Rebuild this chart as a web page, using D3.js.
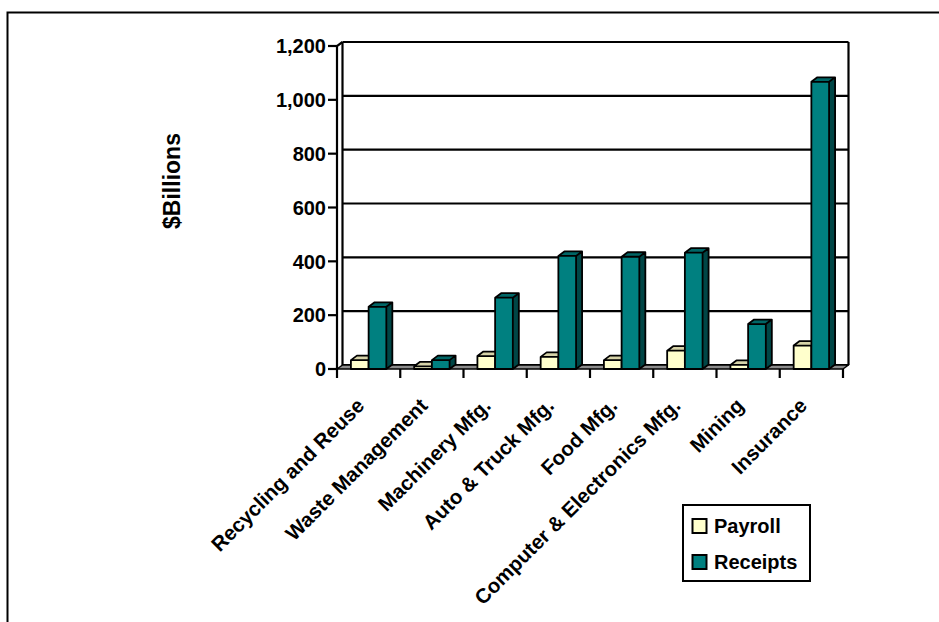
<!DOCTYPE html>
<html>
<head>
<meta charset="utf-8">
<script src="https://cdn.jsdelivr.net/npm/d3@7"></script>
<style>
  html, body { margin: 0; padding: 0; background: #fff; }
  svg { display: block; }
  text { font-family: "Liberation Sans", Arial, sans-serif; font-weight: bold; fill: #000; }
</style>
</head>
<body>
<svg id="chart" width="939" height="622"></svg>
<script>
// Industry payroll and receipts, in billions of dollars
const categories = [
  "Recycling and Reuse",
  "Waste Management",
  "Machinery Mfg.",
  "Auto & Truck Mfg.",
  "Food Mfg.",
  "Computer & Electronics Mfg.",
  "Mining",
  "Insurance"
];
const payroll  = [33, 10, 48, 45, 33, 68, 15, 87];
const receipts = [231, 33, 265, 420, 417, 432, 167, 1067];
const seriesNames = ["Payroll", "Receipts"];
const yTicks = [0, 200, 400, 600, 800, 1000, 1200];

const svg = d3.select("#chart");

// outer frame
svg.append("rect")
  .attr("x", 7.5).attr("y", 12.5)
  .attr("width", 1000).attr("height", 700)
  .attr("fill", "none").attr("stroke", "#000").attr("stroke-width", 2);

// plot geometry (front plane), with a small oblique depth offset
const x0 = 337, x1 = 843;
const depth = { dx: 5.5, dy: -4 };
const barDepth = { dx: 6, dy: -4.5 };

const x = d3.scaleBand().domain(categories).range([x0, x1]).paddingInner(0.44).paddingOuter(0.22);
const y = d3.scaleLinear().domain([0, 1200]).range([369, 46]);

const colors = {
  Payroll:  { front: "#FFFFCC", top: "#D6D3A8", side: "#A8A57E" },
  Receipts: { front: "#008080", top: "#006666", side: "#004646" }
};

// back wall gridlines
const g = svg.append("g");
g.selectAll("line.grid").data(yTicks).join("line")
  .attr("class", "grid")
  .attr("x1", x0 + depth.dx).attr("x2", x1 + depth.dx)
  .attr("y1", d => y(d) + depth.dy).attr("y2", d => y(d) + depth.dy)
  .attr("stroke", "#000").attr("stroke-width", 2.2);

// back wall vertical edges
[x0 + depth.dx, x1 + depth.dx].forEach(xx => {
  g.append("line")
    .attr("x1", xx).attr("x2", xx)
    .attr("y1", y(0) + depth.dy).attr("y2", y(1200) + depth.dy)
    .attr("stroke", "#000").attr("stroke-width", 2.2);
});

// floor
g.append("path")
  .attr("d", `M${x0},${y(0)} L${x1},${y(0)} L${x1 + depth.dx},${y(0) + depth.dy} L${x0 + depth.dx},${y(0) + depth.dy} Z`)
  .attr("fill", "#8c8c8c").attr("stroke", "#000").attr("stroke-width", 1.5)
  .attr("stroke-linejoin", "round");

// front value axis with ticks
const axisG = svg.append("g");
axisG.append("path")
  .attr("d", `M${x0},${y(0)} L${x0},${y(1200)} L${x0 + depth.dx},${y(1200) + depth.dy}`)
  .attr("fill", "none").attr("stroke", "#000").attr("stroke-width", 2.2);
axisG.selectAll("line.ytick").data(yTicks).join("line")
  .attr("class", "ytick")
  .attr("x1", x0 - 9).attr("x2", x0)
  .attr("y1", d => y(d)).attr("y2", d => y(d))
  .attr("stroke", "#000").attr("stroke-width", 2.2);
axisG.selectAll("text.ylab").data(yTicks).join("text")
  .attr("class", "ylab")
  .attr("x", 326).attr("y", d => y(d))
  .attr("dy", "0.36em")
  .attr("text-anchor", "end")
  .attr("font-size", 20)
  .text(d => d3.format(",")(d));

// category axis ticks at band boundaries
const bounds = d3.range(categories.length + 1).map(i => x0 + i * (x1 - x0) / categories.length);
axisG.selectAll("line.xtick").data(bounds).join("line")
  .attr("class", "xtick")
  .attr("x1", d => d).attr("x2", d => d)
  .attr("y1", y(0)).attr("y2", y(0) + 9)
  .attr("stroke", "#000").attr("stroke-width", 2.2);

// 3D bars
const sub = d3.scaleBand().domain(seriesNames).range([0, x.bandwidth()]).padding(0);
const barsG = svg.append("g");
categories.forEach((c, i) => {
  const vals = { Payroll: payroll[i], Receipts: receipts[i] };
  seriesNames.forEach(s => {
    const bx0 = x(c) + sub(s), bx1 = bx0 + sub.bandwidth();
    const yt = y(vals[s]), yb = y(0);
    const { dx, dy } = barDepth;
    const col = colors[s];
    const bar = barsG.append("g");
    bar.append("path")
      .attr("d", `M${bx1},${yb} L${bx1 + dx},${yb + dy} L${bx1 + dx},${yt + dy} L${bx1},${yt} Z`)
      .attr("fill", col.side);
    bar.append("path")
      .attr("d", `M${bx0},${yt} L${bx0 + dx},${yt + dy} L${bx1 + dx},${yt + dy} L${bx1},${yt} Z`)
      .attr("fill", col.top);
    bar.append("rect")
      .attr("x", bx0).attr("y", yt).attr("width", bx1 - bx0).attr("height", yb - yt)
      .attr("fill", col.front);
    bar.append("path")
      .attr("d", `M${bx0},${yb} L${bx0},${yt} L${bx0 + dx},${yt + dy} L${bx1 + dx},${yt + dy} L${bx1 + dx},${yb + dy} L${bx1},${yb} Z M${bx0},${yt} L${bx1},${yt} L${bx1},${yb} M${bx1},${yt} L${bx1 + dx},${yt + dy}`)
      .attr("fill", "none").attr("stroke", "#000").attr("stroke-width", 1.8)
      .attr("stroke-linejoin", "round");
  });
});

// category labels, rotated
svg.append("g").selectAll("text.xlab").data(categories).join("text")
  .attr("class", "xlab")
  .attr("text-anchor", "end")
  .attr("font-size", 20.5)
  .attr("transform", d => `translate(${x(d) + x.bandwidth() / 2 - 3},${407}) rotate(-45)`)
  .text(d => d);

// value axis title
svg.append("text")
  .attr("transform", "translate(180,181) rotate(-90)")
  .attr("text-anchor", "middle")
  .attr("font-size", 23)
  .text("$Billions");

// legend
const lg = svg.append("g");
lg.append("rect")
  .attr("x", 683).attr("y", 505).attr("width", 127).attr("height", 76)
  .attr("fill", "#fff").attr("stroke", "#000").attr("stroke-width", 2);
seriesNames.forEach((s, i) => {
  const yy = 519 + i * 36;
  lg.append("rect")
    .attr("x", 692.5).attr("y", yy).attr("width", 14).attr("height", 14)
    .attr("fill", colors[s].front).attr("stroke", "#000").attr("stroke-width", 2);
  lg.append("text")
    .attr("x", 714).attr("y", yy + 14)
    .attr("font-size", 20)
    .text(s);
});
</script>
</body>
</html>
